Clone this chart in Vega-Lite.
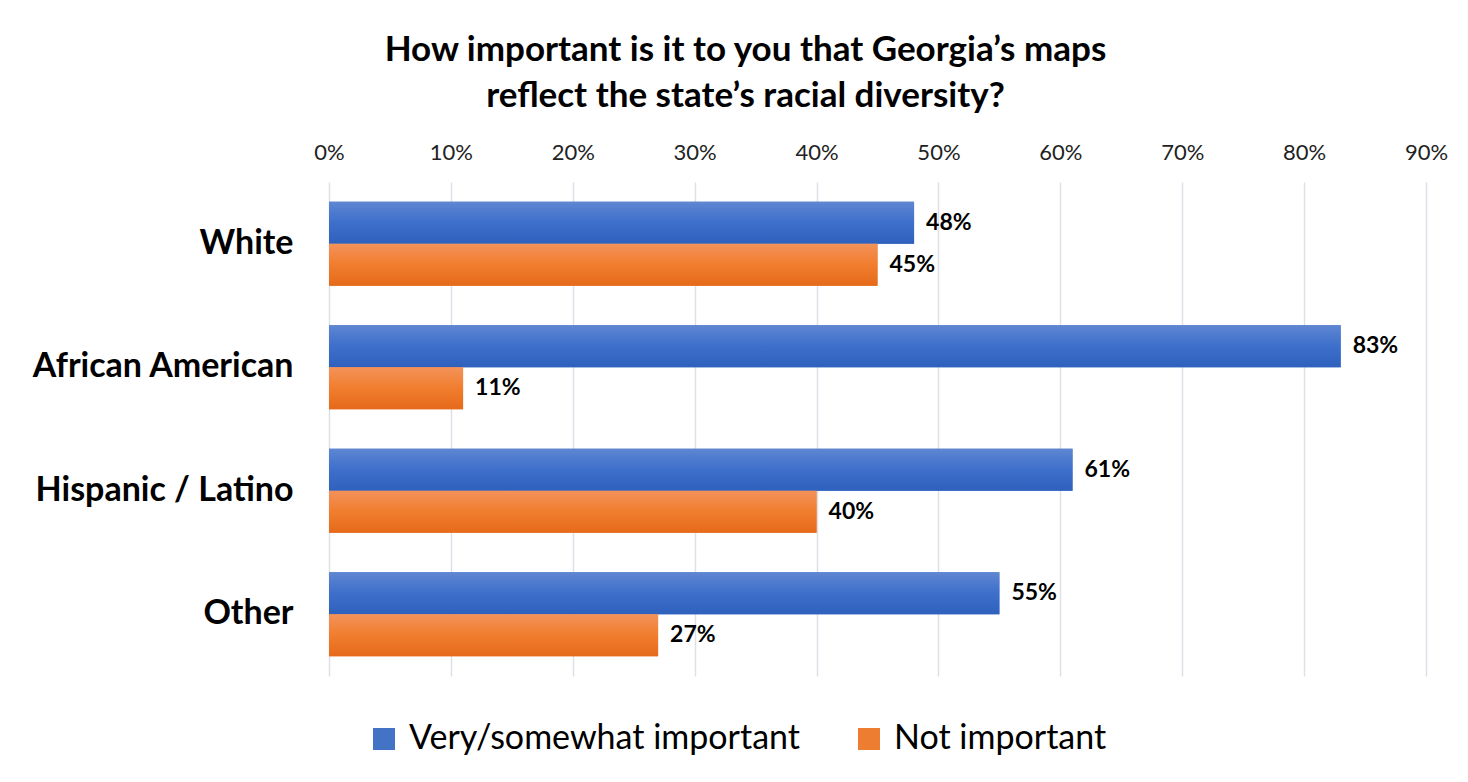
{
  "$schema": "https://vega.github.io/schema/vega-lite/v6.json",
  "autosize": {"type": "none"},
  "width": 1097,
  "height": 494,
  "padding": {"left": 329, "top": 182, "right": 42, "bottom": 106},
  "background": "white",
  "config": {"font": "Lato", "view": {"stroke": null}},
  "title": {
    "text": ["How important is it to you that Georgia’s maps", "reflect the state’s racial diversity?"],
    "font": "Lato", "fontSize": 35, "fontWeight": "bold", "color": "#000000",
    "anchor": "middle", "dx": -132, "offset": 27, "lineHeight": 46
  },
  "data": {"values": [
    {"group": "White", "series": "Very/somewhat important", "value": 0.48},
    {"group": "White", "series": "Not important", "value": 0.45},
    {"group": "African American", "series": "Very/somewhat important", "value": 0.83},
    {"group": "African American", "series": "Not important", "value": 0.11},
    {"group": "Hispanic / Latino", "series": "Very/somewhat important", "value": 0.61},
    {"group": "Hispanic / Latino", "series": "Not important", "value": 0.40},
    {"group": "Other", "series": "Very/somewhat important", "value": 0.55},
    {"group": "Other", "series": "Not important", "value": 0.27}
  ]},
  "encoding": {
    "y": {"field": "group", "type": "nominal", "sort": ["White", "African American", "Hispanic / Latino", "Other"],
      "scale": {"paddingInner": 0.32, "paddingOuter": 0.16},
      "axis": {"title": null, "domain": false, "ticks": false, "labelFontSize": 34, "labelFontWeight": "bold", "labelColor": "#000000", "labelPadding": 36, "labelFont": "Lato", "labelLimit": 400}},
    "yOffset": {"field": "series", "type": "nominal", "sort": ["Very/somewhat important", "Not important"]},
    "x": {"field": "value", "type": "quantitative",
      "scale": {"domain": [0, 0.9], "nice": false},
      "axis": {"orient": "top", "title": null, "format": ".0%", "values": [0, 0.1, 0.2, 0.3, 0.4, 0.5, 0.6, 0.7, 0.8, 0.9],
        "domain": false, "ticks": false, "labelFontSize": 22, "labelColor": "#222222", "labelPadding": 18, "labelFlush": false,
        "gridColor": "#dde1e7", "gridWidth": 1.5, "labelFont": "Lato"}}
  },
  "layer": [
    {
      "mark": {"type": "bar"},
      "encoding": {
        "color": {"field": "series", "type": "nominal", "sort": ["Very/somewhat important", "Not important"],
          "scale": {"domain": ["Very/somewhat important", "Not important"], "range": ["#4472c4", "#ed7d31"]},
          "legend": {"title": null, "orient": "none", "legendX": 38, "legendY": 540, "direction": "horizontal",
            "symbolType": "square", "symbolSize": 484, "labelFontSize": 34, "labelFont": "Lato", "labelColor": "#000000",
            "symbolStrokeWidth": 0, "columnPadding": 52, "labelOffset": 8, "symbolOpacity": 1, "labelLimit": 600}}
      }
    },
    {
      "mark": {"type": "bar"},
      "encoding": {
        "fill": {
          "condition": {"test": "datum.series === 'Very/somewhat important'",
            "value": {"gradient": "linear", "x1": 0, "y1": 0, "x2": 0, "y2": 1,
              "stops": [{"offset": 0, "color": "#5f86d2"}, {"offset": 0.5, "color": "#3d6fcb"}, {"offset": 1, "color": "#2e60bd"}]}},
          "value": {"gradient": "linear", "x1": 0, "y1": 0, "x2": 0, "y2": 1,
            "stops": [{"offset": 0, "color": "#f3925a"}, {"offset": 0.5, "color": "#f17d2e"}, {"offset": 1, "color": "#e56a1a"}]}
        }
      }
    },
    {
      "mark": {"type": "text", "align": "left", "baseline": "middle", "dx": 12, "fontSize": 23, "fontWeight": "bold", "font": "Lato", "color": "#000000"},
      "encoding": {"text": {"field": "value", "type": "quantitative", "format": ".0%"}}
    }
  ]
}
